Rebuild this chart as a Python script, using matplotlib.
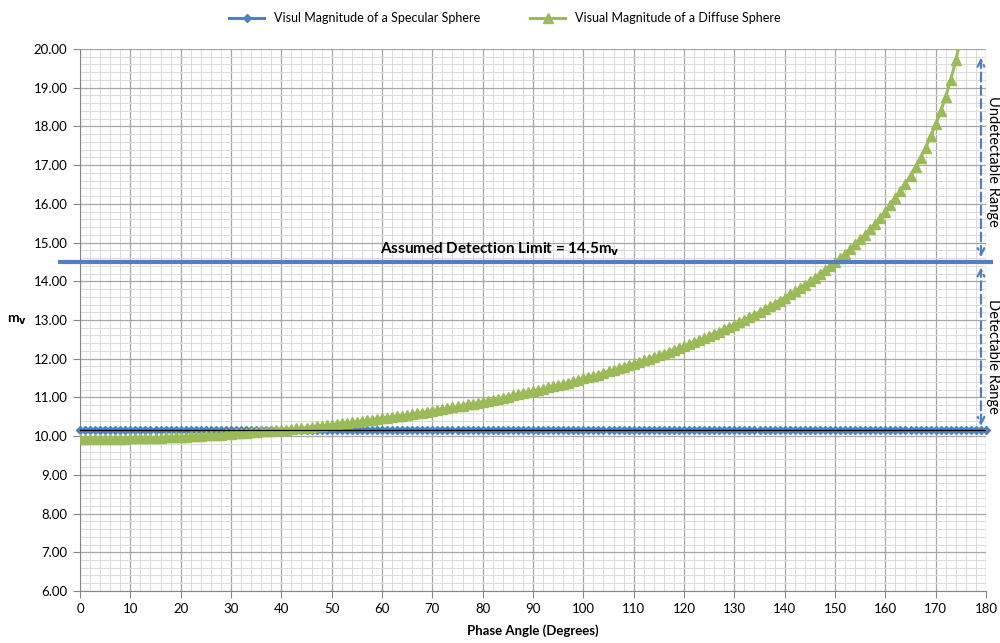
import matplotlib
matplotlib.use("Agg")
import matplotlib.pyplot as plt
from matplotlib.ticker import MultipleLocator, FormatStrFormatter

plt.rcParams['font.family'] = ['Lato', 'DejaVu Sans']

# phase angle (degrees) and magnitudes
phase_deg = list(range(0, 176))
diffuse_mag = [
    9.92, 9.92, 9.92, 9.92, 9.92, 9.92, 9.93, 9.93, 9.93, 9.93,
    9.94, 9.94, 9.94, 9.95, 9.95, 9.96, 9.96, 9.97, 9.97, 9.98,
    9.98, 9.99, 10.00, 10.00, 10.01, 10.02, 10.02, 10.03, 10.04, 10.05,
    10.06, 10.07, 10.08, 10.09, 10.10, 10.11, 10.12, 10.13, 10.14, 10.15,
    10.16, 10.17, 10.19, 10.20, 10.21, 10.22, 10.24, 10.25, 10.27, 10.28,
    10.29, 10.31, 10.33, 10.34, 10.36, 10.37, 10.39, 10.41, 10.42, 10.44,
    10.46, 10.48, 10.50, 10.51, 10.53, 10.55, 10.57, 10.59, 10.61, 10.63,
    10.66, 10.68, 10.70, 10.72, 10.74, 10.77, 10.79, 10.82, 10.84, 10.86,
    10.89, 10.91, 10.94, 10.97, 10.99, 11.02, 11.05, 11.08, 11.11, 11.13,
    11.16, 11.19, 11.22, 11.26, 11.29, 11.32, 11.35, 11.38, 11.42, 11.45,
    11.49, 11.52, 11.56, 11.59, 11.63, 11.67, 11.71, 11.75, 11.79, 11.83,
    11.87, 11.91, 11.96, 12.00, 12.04, 12.09, 12.13, 12.18, 12.23, 12.28,
    12.33, 12.38, 12.43, 12.48, 12.53, 12.59, 12.65, 12.70, 12.76, 12.82,
    12.88, 12.94, 13.01, 13.07, 13.14, 13.21, 13.28, 13.35, 13.42, 13.50,
    13.58, 13.66, 13.74, 13.82, 13.91, 14.00, 14.09, 14.19, 14.29, 14.39,
    14.49, 14.60, 14.71, 14.83, 14.95, 15.08, 15.20, 15.34, 15.48, 15.64,
    15.80, 15.96, 16.14, 16.32, 16.52, 16.73, 16.95, 17.19, 17.45, 17.74,
    18.05, 18.39, 18.77, 19.21, 19.71, 20.30,
]
specular_deg = list(range(0, 181))
specular_mag = [10.16] * len(specular_deg)
detection_limit = 14.5

blue = '#4F81BD'
green = '#9BBB59'

fig = plt.figure(figsize=(10, 6.43), dpi=100)
ax = fig.add_axes([0.08, 0.0809, 0.906, 0.8429])

# grid
ax.xaxis.set_major_locator(MultipleLocator(10))
ax.xaxis.set_minor_locator(MultipleLocator(2))
ax.yaxis.set_major_locator(MultipleLocator(1))
ax.yaxis.set_minor_locator(MultipleLocator(0.2))
ax.grid(which='major', color='#a6a6a6', lw=0.9)
ax.grid(which='minor', color='#dcdcdc', lw=0.8)
ax.set_axisbelow(True)
ax.set_xlim(0, 180)
ax.set_ylim(6, 20)
ax.yaxis.set_major_formatter(FormatStrFormatter('%.2f'))
for s in ['top', 'right']:
    ax.spines[s].set_visible(False)
for s in ['left', 'bottom']:
    ax.spines[s].set_color('#868686')
ax.tick_params(which='major', length=5, color='#868686', labelsize=9.5, pad=4)
ax.tick_params(which='minor', length=0)

# series
ax.plot(specular_deg, specular_mag, color=blue, lw=2.2, marker='D', ms=4,
        clip_on=False, zorder=3, label='Visul Magnitude of a Specular Sphere')
ax.plot(phase_deg, diffuse_mag, color=green, lw=2.2, marker='^', ms=6.5,
        zorder=4, label='Visual Magnitude of a Diffuse Sphere')
ax.plot([0, 180], [specular_mag[0], specular_mag[-1]], color='black', lw=0.9, zorder=5)

# detection limit line
ax.plot([-4, 181], [detection_limit, detection_limit], color=blue, lw=3,
        clip_on=False, zorder=5)
ax.text(83.5, 14.82, 'Assumed Detection Limit = 14.5m$_\\mathbf{v}$', ha='center',
        va='center', fontsize=11, fontweight='bold')

# range arrows
arr = dict(arrowstyle='<->', color=blue, lw=1.6, linestyle=(0, (4, 2)),
           mutation_scale=12, shrinkA=0, shrinkB=0)
ax.annotate('', xy=(179, 19.78), xytext=(179, 14.62), arrowprops=arr,
            annotation_clip=False)
ax.annotate('', xy=(179, 14.36), xytext=(179, 10.26), arrowprops=arr,
            annotation_clip=False)
ax.text(181.4, 17.1, 'Undetectable Range', rotation=270, ha='center', va='center',
        fontsize=10.5, clip_on=False)
ax.text(181.4, 12.05, 'Detectable Range', rotation=270, ha='center', va='center',
        fontsize=10.5, clip_on=False)

ax.set_xlabel('Phase Angle (Degrees)', fontsize=9.5, fontweight='bold', labelpad=6)
ax.set_ylabel('m$_\\mathbf{v}$', fontsize=10, fontweight='bold', rotation=0,
              labelpad=12, va='center')

fig.legend(loc='center', bbox_to_anchor=(0.505, 0.972), ncol=2, frameon=False,
           fontsize=9, handlelength=2.8, columnspacing=4)

fig.savefig('out.png', dpi=100)
